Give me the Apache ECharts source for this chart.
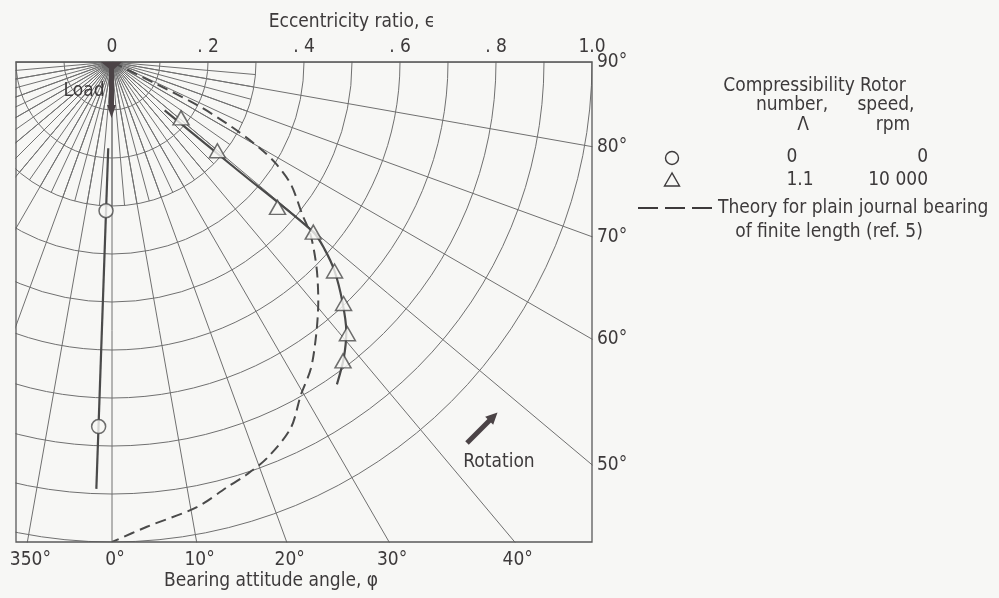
<!DOCTYPE html>
<html><head><meta charset="utf-8">
<script src="https://cdn.jsdelivr.net/npm/echarts@6/dist/echarts.min.js"></script>
<style>html,body{margin:0;padding:0;background:#f7f7f5;}#c{width:999px;height:598px;}</style>
</head><body><div id="c"></div>
<script>
// ---------- data ----------
const eccTicks = [0, 0.2, 0.4, 0.6, 0.8, 1.0];
const eccTickLabels = ['0', '. 2', '. 4', '. 6', '. 8', '1.0'];
const rightAngleTicks = [90, 80, 70, 60, 50];
const bottomAngleTicks = [350, 0, 10, 20, 30, 40];
// Lambda = 0, 0 rpm (circles)
const circleEcc = [0.31, 0.76];
const circleAngle = [357.7, 357.9];
const circleLineEcc = [0.18, 0.89];
const circleLineAngle = [357.5, 357.9];
// Lambda = 1.1, 10 000 rpm (triangles)
const triEcc = [0.185, 0.287, 0.459, 0.549, 0.636, 0.697, 0.749, 0.787];
const triAngle = [51.0, 49.9, 48.7, 49.8, 46.8, 43.8, 40.9, 37.7];
const triLineEcc = [0.149, 0.349, 0.549, 0.591, 0.636, 0.692, 0.744, 0.784, 0.819];
const triLineAngle = [47.4, 49.3, 49.8, 48.6, 46.8, 43.9, 41.0, 38.0, 34.9];
// Theory for plain journal bearing of finite length
const theoryEcc = [0, 0.1, 0.2, 0.286, 0.355, 0.402, 0.452, 0.508, 0.548, 0.605, 0.659, 0.710, 0.761, 0.797, 0.849, 0.886, 0.904, 0.918, 0.944, 0.971, 1.0];
const theoryAngle = [63.8, 63.6, 63.2, 61.5, 59.8, 58.2, 55.6, 51.3, 49.0, 44.8, 40.7, 36.8, 33.0, 29.6, 26.0, 21.4, 18.1, 15.1, 10.8, 4.3, 0];

// ---------- layout ----------
const BG = '#f7f7f5', GRID = '#707070', INK = '#3d3a3b', DARK = '#4b4346';
const FONT = '"DejaVu Sans Condensed","Liberation Sans Narrow",sans-serif';
const FS = 19;
const CX = 112, CY = 62, R = 480;
const LEFT = CX - 0.2 * R, RIGHT = CX + R, BOTTOM = CY + R;

const chart = echarts.init(document.getElementById('c'), null, {renderer: 'canvas'});
const pairs = (a, b) => a.map((v, i) => [v, b[i]]);
const gridLine = {color: GRID, width: 1};
const hidden = {axisLine: {show: false}, axisTick: {show: false}, axisLabel: {show: false}};

function angAxis(pi, interval, split) {
  return Object.assign({polarIndex: pi, type: 'value', min: 0, max: 360, interval: interval,
    startAngle: 270, clockwise: false, splitLine: {show: split, lineStyle: gridLine}}, hidden);
}
function radAxis(pi, max, interval, split) {
  return Object.assign({polarIndex: pi, type: 'value', min: 0, max: max, interval: interval,
    splitLine: {show: split, lineStyle: gridLine}}, hidden);
}

const graphics = [];
// masks (clip the polar grid to the rectangle)
[[0, 0, 999, CY - 0.5], [0, 0, LEFT - 0.5, 598], [RIGHT + 0.5, 0, 999, 598], [0, BOTTOM + 0.5, 999, 100]]
  .forEach(r => graphics.push({type: 'rect', z: 5, silent: true,
    shape: {x: r[0], y: r[1], width: r[2], height: r[3]}, style: {fill: BG}}));
// frame
graphics.push({type: 'rect', z: 6, shape: {x: LEFT, y: CY, width: RIGHT - LEFT, height: BOTTOM - CY},
  style: {fill: null, stroke: '#5a5a5a', lineWidth: 1.3}});
function txt(s, x, y, align, extra) {
  graphics.push({type: 'text', z: 30, x: x, y: y,
    style: Object.assign({text: s, fill: INK, font: FS + 'px ' + FONT, align: align || 'center', verticalAlign: 'middle'}, extra || {})});
}
// angle labels
rightAngleTicks.forEach(a => {
  const y = CY + (RIGHT - CX) / Math.tan(a * Math.PI / 180);
  txt(a + '°', RIGHT + 5, y, 'left');
});
bottomAngleTicks.forEach(a => {
  const aa = a > 180 ? a - 360 : a;
  const x = CX + Math.tan(aa * Math.PI / 180) * (BOTTOM - CY) + 3;
  txt(a + '°', x, BOTTOM + 18, 'center');
});
txt('Bearing attitude angle, φ', 271, 581, 'center');
// Load arrow
graphics.push({type: 'polygon', z: 8, shape: {points: [[101, 62], [122, 62], [112, 71]]}, style: {fill: DARK}});
graphics.push({type: 'line', z: 8, shape: {x1: 111.5, y1: 62, x2: 111.5, y2: 107}, style: {stroke: DARK, lineWidth: 5}});
graphics.push({type: 'polygon', z: 8, shape: {points: [[107, 105], [116, 105], [111.5, 118]]}, style: {fill: DARK}});
txt('Load', 84, 91, 'center');
// Rotation arrow
graphics.push({type: 'line', z: 8, shape: {x1: 467, y1: 443, x2: 490, y2: 420}, style: {stroke: DARK, lineWidth: 5}});
graphics.push({type: 'polygon', z: 8, shape: {points: [[497.5, 412.5], [493.2, 424.8], [485.2, 416.8]]}, style: {fill: DARK}});
txt('Rotation', 499, 462, 'center');
// legend block
txt('Compressibility', 789, 86, 'center');
txt('Rotor', 860, 86, 'left');
txt('number,', 792, 105, 'center');
txt('speed,', 886, 105, 'center');
txt('Λ', 803, 125, 'center');
txt('rpm', 893, 125, 'center');
graphics.push({type: 'circle', z: 30, shape: {cx: 672, cy: 158, r: 6.5}, style: {fill: BG, stroke: INK, lineWidth: 1.4}});
txt('0', 792, 157, 'center');
txt('0', 928, 157, 'right');
graphics.push({type: 'polygon', z: 30, shape: {points: [[672, 173], [664.5, 186], [679.5, 186]]}, style: {fill: BG, stroke: INK, lineWidth: 1.4}});
txt('1.1', 800, 180, 'center');
txt('10 000', 928, 180, 'right');
graphics.push({type: 'line', z: 30, shape: {x1: 638, y1: 208, x2: 713, y2: 208}, style: {stroke: INK, lineWidth: 2, lineDash: [20, 7]}});
txt('Theory for plain journal bearing', 718, 208, 'left');
txt('of finite length (ref. 5)', 829, 232, 'center');

const option = {
  backgroundColor: BG,
  animation: false,
  textStyle: {fontFamily: FONT},
  grid: {left: CX, top: CY, width: R, height: R, show: false},
  xAxis: {type: 'value', position: 'top', min: 0, max: 1, z: 20,
    axisLine: {show: false}, axisTick: {show: false}, splitLine: {show: false},
    axisLabel: {show: true, color: INK, fontSize: FS, fontFamily: FONT, margin: 5,
      customValues: eccTicks,
      formatter: v => eccTickLabels[eccTicks.findIndex(t => Math.abs(t - v) < 1e-6)]},
    name: 'Eccentricity ratio, ϵ', nameLocation: 'middle', nameGap: 30,
    nameTextStyle: {color: INK, fontSize: FS, fontFamily: FONT}},
  yAxis: {type: 'value', min: 0, max: 1, show: false},
  polar: [
    {center: [CX, CY], radius: R},
    {center: [CX, CY], radius: R * 1.5},
    {center: [CX, CY], radius: R * 0.3},
    {center: [CX, CY], radius: R * 0.022}
  ],
  angleAxis: [angAxis(0, 10, false), angAxis(1, 10, true), angAxis(2, 5, true), angAxis(3, 2.5, true)],
  radiusAxis: [radAxis(0, 1, 0.1, true), radAxis(1, 1.5, 0.5, false), radAxis(2, 0.3, 0.1, false), radAxis(3, 0.022, 0.022, false)],
  graphic: graphics,
  series: [
    {type: 'line', coordinateSystem: 'polar', polarIndex: 0, data: pairs(theoryEcc, theoryAngle),
      showSymbol: false, symbol: 'none', smooth: 0.3, z: 3,
      lineStyle: {color: '#4a4a4a', width: 2, type: [11, 6]}},
    {type: 'line', coordinateSystem: 'polar', polarIndex: 0, data: pairs(triLineEcc, triLineAngle),
      showSymbol: false, symbol: 'none', smooth: 0.3, z: 3,
      lineStyle: {color: '#4a4a4a', width: 2.2}},
    {type: 'line', coordinateSystem: 'polar', polarIndex: 0, data: pairs(circleLineEcc, circleLineAngle),
      showSymbol: false, symbol: 'none', z: 3,
      lineStyle: {color: '#4a4a4a', width: 2.2}},
    {type: 'scatter', coordinateSystem: 'polar', polarIndex: 0, data: pairs(triEcc, triAngle),
      symbol: 'triangle', symbolSize: [16, 14], z: 4,
      itemStyle: {color: BG, borderColor: '#4a4a4a', borderWidth: 1.5}},
    {type: 'scatter', coordinateSystem: 'polar', polarIndex: 0, data: pairs(circleEcc, circleAngle),
      symbol: 'circle', symbolSize: 14, z: 4,
      itemStyle: {color: BG, borderColor: '#4a4a4a', borderWidth: 1.5}}
  ]
};
chart.setOption(option);
</script></body></html>
